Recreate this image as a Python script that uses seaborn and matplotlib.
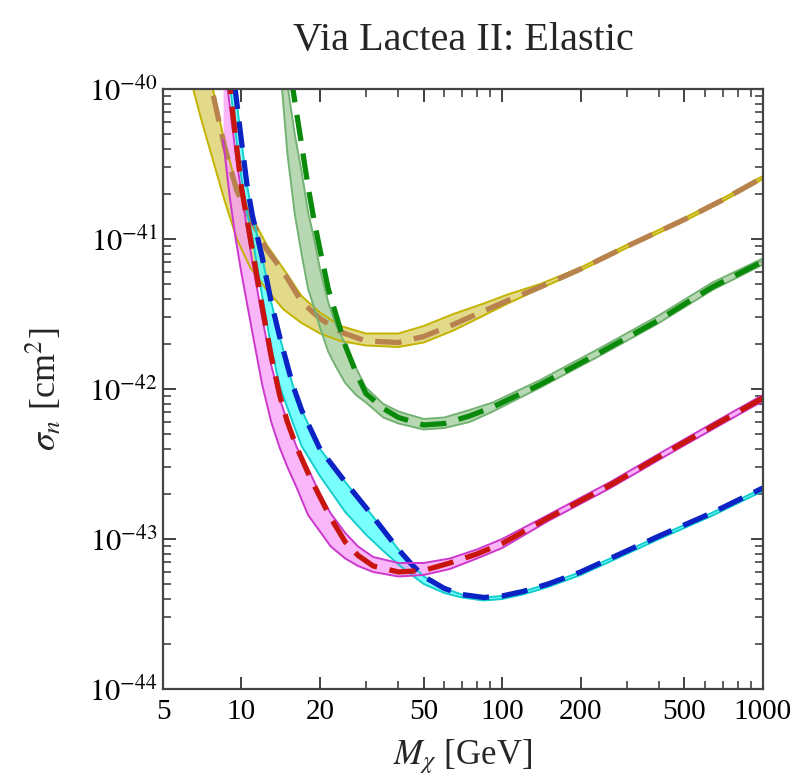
import numpy as np
import matplotlib
matplotlib.use("Agg")
import matplotlib.pyplot as plt
from matplotlib.ticker import FixedLocator, NullFormatter, FuncFormatter
import seaborn as sns

# log10(sigma_n / cm^2), per band
# yellow band + brown dashed
m_yel = [6.3, 7.0, 7.7, 8.6, 9.6, 10.8, 12.5, 14.5, 17, 20, 24, 30, 40, 50, 65, 85, 105, 140, 200, 300, 500, 700, 1000]
yel_lo = [-39.9, -40.2, -40.45, -40.74, -41.0, -41.19, -41.34, -41.47, -41.56, -41.63, -41.68, -41.71, -41.72,
          -41.69, -41.61, -41.51, -41.43, -41.33, -41.21, -41.06, -40.88, -40.75, -40.6]
yel_hi = [-39.5, -39.75, -39.97, -40.35, -40.65, -40.83, -41.04, -41.2, -41.38, -41.49, -41.58, -41.63, -41.63,
          -41.58, -41.5, -41.43, -41.37, -41.3, -41.19, -41.04, -40.86, -40.73, -40.58]
yel_line = [-39.55, -39.78, -40.0, -40.38, -40.68, -40.86, -41.07, -41.22, -41.42, -41.53, -41.62, -41.68, -41.69,
            -41.65, -41.57, -41.48, -41.41, -41.32, -41.2, -41.05, -40.87, -40.74, -40.59]

# green band + dark green dashed
m_grn = [14, 15, 16, 17, 18, 19, 20, 21.5, 23, 25, 27.5, 30, 35, 40, 50, 60, 75, 92, 140, 230, 390, 640, 1000]
grn_lo = [-39.8, -40.43, -40.83, -41.1, -41.33, -41.46, -41.59, -41.75, -41.85, -41.96, -42.04, -42.09, -42.19,
          -42.23, -42.27, -42.26, -42.22, -42.15, -41.99, -41.79, -41.57, -41.34, -41.17]
grn_hi = [-39.6, -39.97, -40.3, -40.55, -40.82, -41.0, -41.2, -41.42, -41.57, -41.7, -41.86, -41.99, -42.1,
          -42.15, -42.2, -42.19, -42.14, -42.09, -41.94, -41.74, -41.52, -41.29, -41.13]
grn_line = [-39.4, -39.75, -40.08, -40.37, -40.65, -40.88, -41.07, -41.33, -41.5, -41.71, -41.89, -42.03, -42.13,
            -42.19, -42.24, -42.23, -42.18, -42.12, -41.97, -41.77, -41.55, -41.32, -41.15]

# cyan band + blue dashed
m_cyn = [9, 9.5, 10, 10.5, 11, 12, 13, 14, 15.7, 17, 20, 25, 30, 35, 40, 45, 50, 60, 70, 85, 100, 120, 150,
         200, 300, 400, 630, 1000]
cyn_lo = [-39.95, -40.3, -40.6, -40.82, -40.99, -41.38, -41.72, -41.98, -42.22, -42.38, -42.58, -42.82, -42.97,
          -43.08, -43.17, -43.24, -43.3, -43.36, -43.39, -43.41, -43.4, -43.37, -43.32, -43.24, -43.1, -43.0,
          -42.85, -42.68]
cyn_line = [-39.7, -40.03, -40.35, -40.64, -40.84, -41.12, -41.42, -41.65, -41.97, -42.14, -42.4, -42.62, -42.79,
            -42.94, -43.07, -43.17, -43.25, -43.33, -43.37, -43.39, -43.38, -43.35, -43.3, -43.22, -43.08, -42.98,
            -42.83, -42.66]

# magenta band + red dashed
m_mag = [8.5, 9, 9.5, 10, 11, 12, 13, 14, 15, 16.3, 18, 20, 22, 25, 28, 32, 40, 50, 63, 80, 100, 150, 260,
         430, 670, 1000]
mag_lo = [-40.34, -40.71, -41.0, -41.23, -41.62, -41.97, -42.22, -42.39, -42.52, -42.66, -42.84, -42.95, -43.05,
          -43.13, -43.18, -43.22, -43.25, -43.24, -43.2, -43.13, -43.06, -42.88, -42.66, -42.44, -42.25, -42.08]
mag_hi = [-39.75, -40.1, -40.43, -40.7, -41.15, -41.52, -41.84, -42.06, -42.22, -42.39, -42.53, -42.7, -42.83,
          -42.96, -43.05, -43.12, -43.16, -43.16, -43.13, -43.07, -43.0, -42.84, -42.62, -42.4, -42.21, -42.04]
mag_line = [-39.6, -39.97, -40.33, -40.66, -41.07, -41.45, -41.78, -42.04, -42.22, -42.39, -42.56, -42.72, -42.86,
            -43.02, -43.11, -43.18, -43.22, -43.21, -43.16, -43.1, -43.03, -42.86, -42.64, -42.42, -42.23, -42.06]

x_ticks = [5, 10, 20, 50, 100, 200, 500, 1000]
x_minor = [30, 40, 60, 70, 80, 90, 300, 400, 600, 700, 800, 900]
y_ticks = [1e-44, 1e-43, 1e-42, 1e-41, 1e-40]

bands = [
    (m_yel, yel_lo, yel_hi, yel_line, "#d9cd62", "#c4b300", "#b7824e"),
    (m_grn, grn_lo, grn_hi, grn_line, "#9fcc98", "#74b274", "#0a8a0a"),
    (m_cyn, cyn_lo, cyn_line, cyn_line, "#4dffff", "#14cccc", "#0b22c4"),
    (m_mag, mag_lo, mag_hi, mag_line, "#f79ef7", "#cc38cc", "#c8160f"),
]

sns.set_theme(style="ticks")
plt.rcParams["font.family"] = ["Liberation Serif", "DejaVu Serif"]
plt.rcParams["mathtext.fontset"] = "stix"

fig, ax = plt.subplots(figsize=(8.09, 7.80), dpi=100)
fig.subplots_adjust(left=0.2015, right=0.943, bottom=0.1167, top=0.8859)

for m, lo, hi, line, fill, edge, dash in bands:
    m = np.array(m)
    lo_v = 10.0 ** np.array(lo)
    hi_v = 10.0 ** np.array(hi)
    ax.fill_between(m, lo_v, hi_v, color=fill, alpha=0.75, lw=0)
    sns.lineplot(x=m, y=lo_v, ax=ax, color=edge, lw=1.4, estimator=None, sort=False)
    sns.lineplot(x=m, y=hi_v, ax=ax, color=edge, lw=1.4, estimator=None, sort=False)
    sns.lineplot(x=m, y=10.0 ** np.array(line), ax=ax, color=dash, lw=3.8, estimator=None, sort=False,
                 linestyle=(0, (5, 2.4)), dash_capstyle="butt")

ax.set_xscale("log")
ax.set_yscale("log")
ax.set_xlim(5, 1000)
ax.set_ylim(1e-44, 1e-40)

ax.xaxis.set_major_locator(FixedLocator(x_ticks))
ax.xaxis.set_major_formatter(FuncFormatter(lambda v, p: f"{v:g}"))
ax.xaxis.set_minor_locator(FixedLocator(x_minor))
ax.xaxis.set_minor_formatter(NullFormatter())
ax.yaxis.set_major_locator(FixedLocator(y_ticks))
y_minor = [k * 10.0 ** e for e in range(-44, -40) for k in range(2, 10)]
ax.yaxis.set_minor_locator(FixedLocator(y_minor))
ax.yaxis.set_minor_formatter(NullFormatter())
ax.yaxis.set_major_formatter(FuncFormatter(lambda v, p: r"$10^{%d}$" % round(np.log10(v))))

ax.tick_params(which="both", direction="in", top=True, right=True, colors="#333333", labelcolor="black")
ax.tick_params(which="major", length=9, width=1.3, labelsize=21, pad=7)
ax.tick_params(axis="y", which="major", labelsize=22, pad=4)
ax.tick_params(which="minor", length=6, width=1.1)
for s in ax.spines.values():
    s.set_color("#444444")
    s.set_linewidth(1.6)

ax.set_xlabel(r"$M_\chi$ [GeV]", fontsize=25, labelpad=9)
ax.set_ylabel(r"$\sigma_n$ [cm$^2$]", fontsize=26, labelpad=18)
ax.set_title("Via Lactea II: Elastic", fontsize=29, pad=28)

fig.savefig("out.png", dpi=100)
